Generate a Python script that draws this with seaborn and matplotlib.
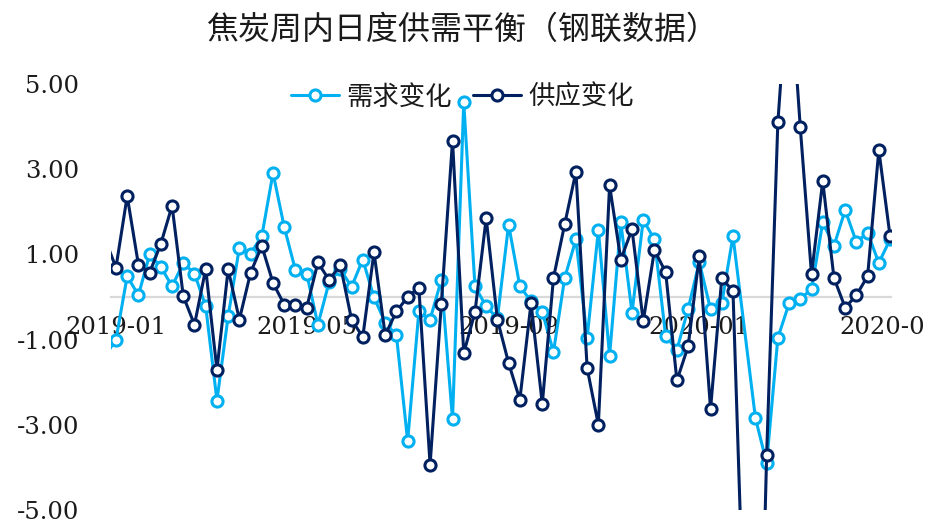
import numpy as np
import pandas as pd
import matplotlib
matplotlib.use("Agg")
import matplotlib.pyplot as plt
from matplotlib.ticker import FixedLocator
import seaborn as sns

# ---------------- data ----------------
title = "焦炭周内日度供需平衡（钢联数据）"
series_names = ["需求变化", "供应变化"]
start_week = "2018-12-28"          # weekly points, first one lies just left of the visible range
demand = [-1.40,
          -1.00, 0.49, 0.04, 1.00, 0.71, 0.25, 0.80, 0.55, -0.22, -2.43,
          -0.45, 1.16, 1.02, 1.43, 2.91, 1.64, 0.63, 0.55, -0.65, 0.35,
          0.65, 0.24, 0.88, -0.01, -0.60, -0.90, -3.38, -0.34, -0.53, 0.40,
          -2.87, 4.57, 0.25, -0.22, -0.50, 1.70, 0.25, -0.10, -0.35, -1.29,
          0.45, 1.35, -0.96, 1.57, -1.38, 1.75, -0.37, 1.81, 1.35, -0.92,
          -1.24, -0.28, 0.82, -0.29, -0.15, 1.43, np.nan, -2.84, -3.90, -0.96,
          -0.15, -0.04, 0.18, 1.75, 1.20, 2.04, 1.29, 1.51, 0.80, 1.35]
supply = [1.38,
          0.69, 2.37, 0.76, 0.57, 1.25, 2.14, 0.02, -0.65, 0.66, -1.71,
          0.65, -0.53, 0.57, 1.20, 0.33, -0.18, -0.18, -0.25, 0.81, 0.40,
          0.75, -0.53, -0.94, 1.05, -0.89, -0.34, 0.00, 0.22, -3.94, -0.17,
          3.67, -1.32, -0.36, 1.85, -0.53, -1.55, -2.41, -0.14, -2.51, 0.45,
          1.71, 2.94, -1.67, -3.00, 2.62, 0.88, 1.59, -0.57, 1.10, 0.58,
          -1.96, -1.16, 0.96, -2.63, 0.44, 0.14, -8.00, -14.00, -3.71, 4.10,
          7.80, 3.98, 0.53, 2.72, 0.45, -0.25, 0.04, 0.49, 3.45, 1.43]
tick_dates = ["2019-01-04", "2019-05-03", "2019-09-06", "2020-01-03", "2020-05-01"]
tick_labels = ["2019-01", "2019-05", "2019-09", "2020-01", "2020-05"]
y_ticks = [-5, -3, -1, 1, 3, 5]
colors = ["#00B0F0", "#002060"]

dates = pd.date_range(start_week, periods=len(demand), freq="7D")
df = pd.DataFrame({"date": dates, series_names[0]: demand, series_names[1]: supply})
long = df.melt(id_vars="date", var_name="series", value_name="value").dropna()

# ---------------- figure ----------------
sns.set_theme(style="white")
plt.rcParams["font.family"] = ["DejaVu Serif"]

W, H = 925, 524
fig = plt.figure(figsize=(W / 100, H / 100), dpi=100)
ax = fig.add_axes([111 / W, 14 / H, 780 / W, 426 / H])

for name, col in zip(series_names, colors):
    sub = long[long["series"] == name]
    sns.lineplot(data=sub, x="date", y="value", ax=ax, color=col, label=name,
                 estimator=None, linewidth=2.2, marker="o", markersize=8,
                 markerfacecolor="white", markeredgewidth=2.2, zorder=3)

for ln, col in zip(ax.lines, colors):
    ln.set_markeredgecolor(col)
    ln.set_markerfacecolor("white")
    ln.set_zorder(3)
    n = len(ln.get_xdata())
    ln.set_markevery(list(range(1, n)))   # first point lies outside the visible range

xmin = pd.Timestamp(tick_dates[0]) - pd.Timedelta(days=3.1)
xmax = pd.Timestamp(tick_dates[-1]) + pd.Timedelta(days=0.6)
ax.set_xlim(xmin, xmax)
ax.set_ylim(-5, 5)

ax.set_xticks(pd.to_datetime(tick_dates))
ax.set_xticklabels(tick_labels)
ax.xaxis.set_minor_locator(FixedLocator([matplotlib.dates.date2num(xmin),
                                         matplotlib.dates.date2num(xmax)]))
ax.set_yticks(y_ticks)
ax.set_yticklabels([f"{v:.2f}" for v in y_ticks])
ax.set_xlabel("")
ax.set_ylabel("")

for s in ["top", "right", "left"]:
    ax.spines[s].set_visible(False)
ax.spines["bottom"].set_position(("data", 0))
ax.spines["bottom"].set_color("#D9D9D9")
ax.spines["bottom"].set_linewidth(1.6)
ax.spines["bottom"].set_zorder(2)

ax.tick_params(axis="x", which="major", length=0, pad=13.5, labelsize=17.5,
               labelcolor="#1a1a1a")
ax.tick_params(axis="x", which="minor", length=5, width=1.6, color="#D9D9D9",
               direction="out")
ax.tick_params(axis="y", length=0, pad=23, labelsize=17.5, labelcolor="#1a1a1a")

leg = ax.legend(loc="center", bbox_to_anchor=(462 / W, 1 - 97 / H),
                bbox_transform=fig.transFigure, ncol=2, frameon=False,
                handlelength=1.85, handletextpad=0.25, columnspacing=0.8,
                prop={"family": ["Noto Sans CJK SC", "DejaVu Sans"], "size": 19})
for t in leg.get_texts():
    t.set_color("#1a1a1a")
for h, col in zip(leg.legend_handles, colors):
    h.set_markeredgecolor(col)
    h.set_markerfacecolor("white")

fig.text(0.5, 1 - 30 / H, title, ha="center", va="center", fontsize=23,
         color="#1a1a1a", family=["Noto Sans CJK SC", "DejaVu Sans"])

fig.savefig("out.png", dpi=100)
